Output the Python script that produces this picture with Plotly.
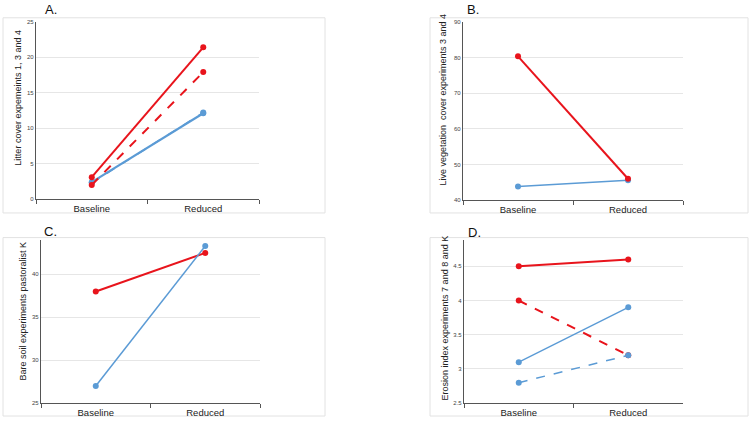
import plotly.graph_objects as go

W, H = 750, 421
categories = ["Baseline", "Reduced"]

# Panel A: Litter cover
a_red_solid = [3.1, 21.4]
a_red_dash = [2.0, 17.9]
a_blue_solid = [2.4, 12.1]
a_blue_dash = [2.3, 12.2]

# Panel B: Live vegetation cover
b_red = [80.3, 46.0]
b_blue = [43.8, 45.6]

# Panel C: Bare soil
c_red = [38.0, 42.5]
c_blue = [27.0, 43.3]

# Panel D: Erosion index
d_red_solid = [4.5, 4.6]
d_red_dash = [4.0, 3.2]
d_blue_solid = [3.1, 3.9]
d_blue_dash = [2.8, 3.2]

RED = "#e8141c"
BLUE = "#5b9bd5"
FONT = "Liberation Sans, Arial, sans-serif"


def px_x(p):
    return p / W


def px_y(p):
    return 1 - p / H


fig = go.Figure()


def add_line(vals, color, dash, axis, width):
    fig.add_trace(go.Scatter(
        x=categories, y=vals, mode="lines+markers",
        line=dict(color=color, width=width, dash=dash),
        marker=dict(color=color, size=6),
        xaxis="x" + axis, yaxis="y" + axis, showlegend=False,
    ))


add_line(a_blue_solid, BLUE, "solid", "", 2.2)
add_line(a_blue_dash, BLUE, "dash", "", 1.5)
add_line(a_red_dash, RED, "dash", "", 2)
add_line(a_red_solid, RED, "solid", "", 2)

add_line(b_blue, BLUE, "solid", "2", 1.5)
add_line(b_red, RED, "solid", "2", 2)

add_line(c_red, RED, "solid", "3", 2)
add_line(c_blue, BLUE, "solid", "3", 1.5)

add_line(d_red_solid, RED, "solid", "4", 2)
add_line(d_red_dash, RED, "dash", "4", 2)
add_line(d_blue_solid, BLUE, "solid", "4", 1.5)
add_line(d_blue_dash, BLUE, "dash", "4", 1.5)

xcommon = dict(type="category", range=[-0.5, 1.5], showgrid=False,
               showline=True, linecolor="#555555", linewidth=1.2,
               ticks="outside", tickson="boundaries", ticklen=4,
               tickcolor="#555555", tickfont=dict(size=9.5, color="#222222", family=FONT),
               zeroline=False, fixedrange=True)
ycommon = dict(showgrid=True, gridcolor="#e6e6e6", gridwidth=1,
               showline=True, linecolor="#555555", linewidth=1.2,
               ticks="", tickfont=dict(size=6, color="#444444", family=FONT),
               zeroline=False, fixedrange=True)

panels = {
    "": dict(x=(36, 259), y=(19, 199), yr=[0, 25], dt=5),
    "2": dict(x=(463, 683), y=(19, 200), yr=[40, 90], dt=10),
    "3": dict(x=(41, 260), y=(240, 406), yr=[25, 44.05], dt=5),
    "4": dict(x=(464, 683), y=(240, 406), yr=[2.5, 4.89], dt=0.5),
}

layout = dict(width=W, height=H, margin=dict(l=0, r=0, t=0, b=0),
              paper_bgcolor="white", plot_bgcolor="white",
              font=dict(family=FONT))
for k, p in panels.items():
    xa = dict(xcommon)
    xa["domain"] = [px_x(p["x"][0]), px_x(p["x"][1])]
    xa["anchor"] = "y" + k
    ya = dict(ycommon)
    ya["domain"] = [px_y(p["y"][1]), px_y(p["y"][0])]
    ya["range"] = p["yr"]
    ya["dtick"] = p["dt"]
    ya["anchor"] = "x" + k
    layout["xaxis" + k] = xa
    layout["yaxis" + k] = ya

fig.update_layout(**layout)

# panel frames
frames = [(3, 15, 325, 213), (430, 15, 748, 213), (3, 238, 325, 419), (430, 238, 748, 419)]
for x0, y0, x1, y1 in frames:
    fig.add_shape(type="rect", xref="paper", yref="paper",
                  x0=px_x(x0), x1=px_x(x1), y0=px_y(y1), y1=px_y(y0),
                  line=dict(color="#e2e2e2", width=1), layer="below")

# panel letters
letters = [("A.", 51, 7), ("B.", 473, 7), ("C.", 50, 232), ("D.", 474, 233)]
for t, x, y in letters:
    fig.add_annotation(text=t, xref="paper", yref="paper", x=px_x(x), y=px_y(y),
                       showarrow=False, font=dict(size=13, color="#111111", family=FONT),
                       xanchor="center", yanchor="middle")

# y-axis titles
titles = [
    ("Litter cover expemeints 1, 3 and 4", 18, 96),
    ("Live vegetation  cover experiments 3 and 4", 443, 98),
    ("Bare soil experiments pastoralist K", 23, 313),
    ("Erosion index experiments 7 and 8 and K", 445, 320),
]
for t, x, y in titles:
    fig.add_annotation(text=t, xref="paper", yref="paper", x=px_x(x), y=px_y(y),
                       showarrow=False, textangle=-90,
                       font=dict(size=9, color="#222222", family=FONT),
                       xanchor="center", yanchor="middle")

fig.write_html(
    "out.html",
    config={"displayModeBar": False},
    post_script="document.body.style.margin='0';document.body.style.padding='0';"
                "document.body.style.overflow='hidden';",
)
